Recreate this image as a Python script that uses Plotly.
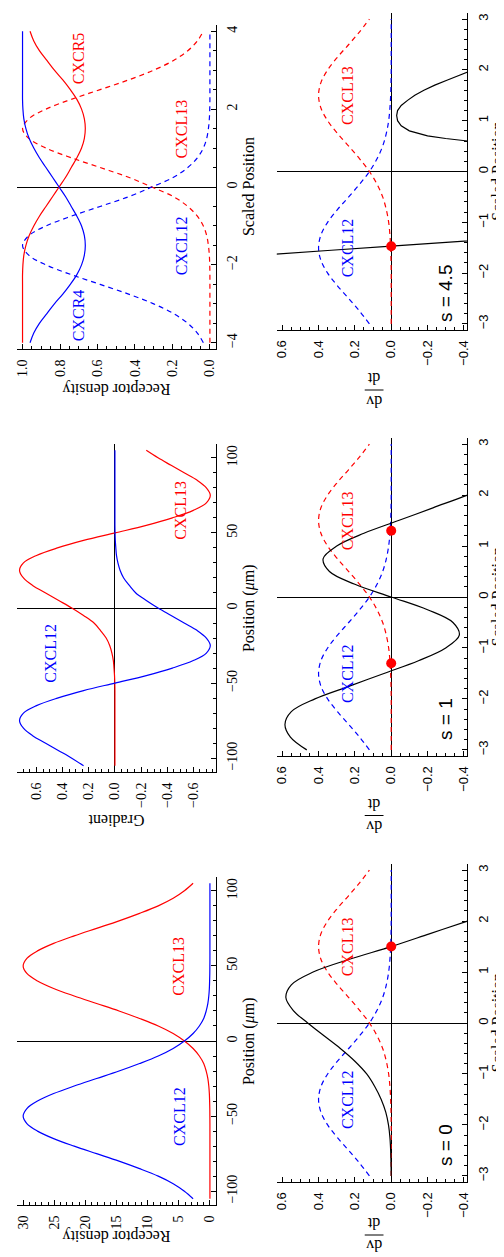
import plotly.graph_objects as go

# ---------------- data ----------------
# Panel A / B : position in micrometres
pos_um = [-105, -100, -95, -90, -85, -80, -75, -70, -65, -60, -55, -50, -45, -40, -35, -30,
          -25, -20, -15, -10, -5, 0, 5, 10, 15, 20, 25, 30, 35, 40, 45, 50,
          55, 60, 65, 70, 75, 80, 85, 90, 95, 100, 105]
dens_cxcl12 = [2.7, 4.1, 5.9, 8.3, 11.3, 14.6, 18.2, 21.8, 25.1, 27.7, 29.4, 30.0, 29.4, 27.7, 25.1, 21.8,
               18.2, 14.6, 11.3, 8.3, 5.9, 4.1, 2.7, 1.7, 1.0, 0.6, 0.33, 0.18, 0.09, 0.05, 0.02, 0.01,
               0, 0, 0, 0, 0, 0, 0, 0, 0, 0, 0]
dens_cxcl13 = [0, 0, 0, 0, 0, 0, 0, 0, 0, 0, 0, 0.01, 0.02, 0.05, 0.09, 0.18,
               0.33, 0.6, 1.0, 1.7, 2.7, 4.1, 5.9, 8.3, 11.3, 14.6, 18.2, 21.8, 25.1, 27.7, 29.4, 30.0,
               29.4, 27.7, 25.1, 21.8, 18.2, 14.6, 11.3, 8.3, 5.9, 4.1, 2.7]
grad_cxcl12 = [0.24, 0.33, 0.43, 0.53, 0.63, 0.70, 0.73, 0.70, 0.60, 0.44, 0.24, 0.0, -0.24, -0.44, -0.60, -0.70,
               -0.73, -0.70, -0.63, -0.53, -0.43, -0.33, -0.24, -0.16, -0.11, -0.067, -0.04, -0.023, -0.012, -0.007, -0.003, -0.001,
               0, 0, 0, 0, 0, 0, 0, 0, 0, 0, 0]
grad_cxcl13 = [0, 0, 0, 0, 0, 0, 0, 0, 0, 0, 0, 0.001, 0.003, 0.007, 0.012, 0.023,
               0.04, 0.067, 0.11, 0.16, 0.24, 0.33, 0.43, 0.53, 0.63, 0.70, 0.73, 0.70, 0.60, 0.44, 0.24, 0.0,
               -0.24, -0.44, -0.60, -0.70, -0.73, -0.70, -0.63, -0.53, -0.43, -0.33, -0.24]

# Panel C : scaled position
pos_scaled = [-4, -3.75, -3.5, -3.25, -3, -2.75, -2.5, -2.25, -2, -1.75, -1.5, -1.25, -1, -0.75, -0.5, -0.25,
              0, 0.25, 0.5, 0.75, 1, 1.25, 1.5, 1.75, 2, 2.25, 2.5, 2.75, 3, 3.25, 3.5, 3.75, 4]
rec_cxcr4 = [0.96, 0.94, 0.91, 0.87, 0.83, 0.785, 0.745, 0.71, 0.685, 0.67, 0.665, 0.67, 0.685, 0.71, 0.74, 0.77,
             0.805, 0.84, 0.875, 0.91, 0.94, 0.965, 0.982, 0.993, 0.998, 1, 1, 1, 1, 1, 1, 1, 1]
rec_cxcr5 = [1, 1, 1, 1, 1, 1, 1, 1, 0.998, 0.993, 0.982, 0.965, 0.94, 0.91, 0.875, 0.84,
             0.805, 0.77, 0.74, 0.71, 0.685, 0.67, 0.665, 0.67, 0.685, 0.71, 0.745, 0.785, 0.83, 0.87, 0.91, 0.94, 0.96]
lig_cxcl12 = [0.035, 0.067, 0.118, 0.194, 0.30, 0.434, 0.586, 0.74, 0.875, 0.967, 1.0, 0.967, 0.875, 0.74, 0.586, 0.434,
              0.31, 0.194, 0.118, 0.067, 0.035, 0.017, 0.008, 0.003, 0.001, 0, 0, 0, 0, 0, 0, 0, 0]
lig_cxcl13 = [0, 0, 0, 0, 0, 0, 0, 0, 0.001, 0.003, 0.008, 0.017, 0.035, 0.067, 0.118, 0.194,
              0.31, 0.434, 0.586, 0.74, 0.875, 0.967, 1.0, 0.967, 0.875, 0.74, 0.586, 0.434, 0.30, 0.194, 0.118, 0.067, 0.035]

# Panels D-F : scaled position -3..3
pos_s = [-3, -2.75, -2.5, -2.25, -2, -1.75, -1.5, -1.25, -1, -0.75, -0.5, -0.25, 0,
         0.25, 0.5, 0.75, 1, 1.25, 1.5, 1.75, 2, 2.25, 2.5, 2.75, 3]
s_cxcl12 = [0.12, 0.174, 0.234, 0.296, 0.35, 0.387, 0.40, 0.387, 0.35, 0.296, 0.234, 0.174, 0.12,
            0.078, 0.047, 0.027, 0.014, 0.007, 0.003, 0.001, 0, 0, 0, 0, 0]
s_cxcl13 = [0, 0, 0, 0, 0, 0.001, 0.003, 0.007, 0.014, 0.027, 0.047, 0.078, 0.12,
            0.174, 0.234, 0.296, 0.35, 0.387, 0.40, 0.387, 0.35, 0.296, 0.234, 0.174, 0.12]

s0_x = [-3, -2.75, -2.5, -2.25, -2, -1.75, -1.5, -1.25, -1, -0.75, -0.5, -0.25, 0,
        0.25, 0.5, 0.75, 1, 1.25, 1.5, 1.75, 2, 2.25]
s0_v = [0.0, 0.001, 0.003, 0.007, 0.015, 0.03, 0.055, 0.09, 0.135, 0.2, 0.28, 0.37, 0.46,
        0.54, 0.58, 0.55, 0.43, 0.23, 0.0, -0.21, -0.42, -0.62]
s0_fixed_x = [1.5]

s1_x = [-3, -2.75, -2.5, -2.25, -2, -1.75, -1.5, -1.25, -1, -0.75, -0.5, -0.25, 0,
        0.25, 0.5, 0.75, 1, 1.25, 1.5, 1.75, 2, 2.25]
s1_v = [0.465, 0.555, 0.585, 0.55, 0.42, 0.23, 0.04, -0.15, -0.30, -0.375, -0.34, -0.20, 0.0,
        0.20, 0.34, 0.375, 0.30, 0.15, -0.04, -0.23, -0.42, -0.60]
s1_fixed_x = [-1.3, 1.3]

s45_left_x = [-1.72, -1.62, -1.55, -1.47, -1.37, -1.3]
s45_left_v = [1.0, 0.63, 0.33, 0.0, -0.42, -0.7]
s45_right_x = [0.55, 0.6, 0.65, 0.7, 0.8, 0.9, 1.0, 1.1, 1.2, 1.3, 1.4, 1.5, 1.6, 1.7, 1.8, 1.9, 1.97, 2.05]
s45_right_v = [-0.6, -0.42, -0.3, -0.2, -0.1, -0.055, -0.035, -0.03, -0.035, -0.055, -0.09, -0.13, -0.18, -0.24, -0.31, -0.38, -0.43, -0.52]
s45_fixed_x = [-1.47]

s_labels = ["s = 0", "s = 1", "s = 4.5"]

# ---------------- layout helpers ----------------
W, H = 504, 1257
RED, BLUE, BLACK = "#ff0000", "#0000ff", "#000000"
SERIF = "Liberation Serif"
SANS = "Liberation Sans"


def px(X):
    return X / W


def py(Y):
    return 1 - Y / H


# panel boxes in pixels: (X left, X right(axis line), Y top, Y bottom(axis line))
boxes = {
    1: (7, 208, 869, 1197),    # A receptor density (um)
    2: (7, 208, 436, 764),     # B gradient
    3: (7, 208, 17, 341),      # C receptor density (scaled)
    4: (270, 463, 856, 1174),  # D s=0
    5: (270, 463, 430, 748),   # E s=1
    6: (270, 463, 5, 322),     # F s=4.5
}
val_ranges = {1: [31.0, -0.9], 2: [0.75, -0.77], 3: [1.03, -0.03],
              4: [0.63, -0.42], 5: [0.63, -0.42], 6: [0.63, -0.42]}
pos_ranges = {1: [-109.2, 109.2], 2: [-109.2, 109.2], 3: [-4.16, 4.16],
              4: [-3.12, 3.12], 5: [-3.12, 3.12], 6: [-3.12, 3.12]}
val_ticks = {1: (5, 1, None), 2: (0.2, 0.05, ".1f"), 3: (0.2, 0.05, ".1f"),
             4: (0.2, 0.05, ".1f"), 5: (0.2, 0.05, ".1f"), 6: (0.2, 0.05, ".1f")}
pos_ticks = {1: (50, 10), 2: (50, 10), 3: (2, 0.5), 4: (1, 0.2), 5: (1, 0.2), 6: (1, 0.2)}
val_zero = {1: False, 2: True, 3: False, 4: True, 5: True, 6: True}

fig = go.Figure()
layout = dict(width=W, height=H, margin=dict(l=0, r=0, t=0, b=0),
              paper_bgcolor="white", plot_bgcolor="white", showlegend=False)

for i, (x0, x1, y0, y1) in boxes.items():
    fam = SERIF if i <= 3 else SANS
    fsz = 14 if i <= 3 else 13
    dt, mdt, fmt = val_ticks[i]
    xa = dict(domain=[px(x0), px(x1)], range=val_ranges[i], anchor=f"y{i}",
              showgrid=False, showline=True, linecolor=BLACK, linewidth=1,
              ticks="inside", ticklen=5, tickwidth=1, tickcolor=BLACK,
              dtick=dt, tick0=0, tickangle=-90, ticklabelstandoff=4,
              tickfont=dict(family=fam, size=fsz, color=BLACK),
              minor=dict(ticks="inside", ticklen=3, tickwidth=1, tickcolor=BLACK, dtick=mdt, showgrid=False),
              zeroline=val_zero[i], zerolinecolor=BLACK, zerolinewidth=1, fixedrange=True)
    if fmt:
        xa["tickformat"] = fmt
    pdt, pmdt = pos_ticks[i]
    ya = dict(domain=[py(y1), py(y0)], range=pos_ranges[i], anchor=f"x{i}", side="right",
              showgrid=False, showline=True, linecolor=BLACK, linewidth=1,
              ticks="inside", ticklen=5, tickwidth=1, tickcolor=BLACK,
              dtick=pdt, tick0=0, tickangle=-90, ticklabelstandoff=4,
              tickfont=dict(family=fam, size=fsz, color=BLACK),
              minor=dict(ticks="inside", ticklen=3, tickwidth=1, tickcolor=BLACK, dtick=pmdt, showgrid=False),
              zeroline=True, zerolinecolor=BLACK, zerolinewidth=1, fixedrange=True)
    layout[f"xaxis{i}" if i > 1 else "xaxis"] = xa
    layout[f"yaxis{i}" if i > 1 else "yaxis"] = ya


def line(ax, vals, pos, color, dash="solid", shape="spline"):
    fig.add_trace(go.Scatter(x=vals, y=pos, mode="lines", xaxis=f"x{ax}", yaxis=f"y{ax}",
                             line=dict(color=color, width=1.2, dash=dash, shape=shape),
                             hoverinfo="skip"))


DASH = "5px,4px"
# Panel A
line(1, dens_cxcl13, pos_um, RED)
line(1, dens_cxcl12, pos_um, BLUE)
# Panel B
line(2, grad_cxcl13, pos_um, RED)
line(2, grad_cxcl12, pos_um, BLUE)
# Panel C
line(3, lig_cxcl13, pos_scaled, RED, DASH)
line(3, lig_cxcl12, pos_scaled, BLUE, DASH)
line(3, rec_cxcr5, pos_scaled, RED)
line(3, rec_cxcr4, pos_scaled, BLUE)

black_curves = {4: [(s0_v, s0_x)], 5: [(s1_v, s1_x)],
                6: [(s45_left_v, s45_left_x), (s45_right_v, s45_right_x)]}
fixed = {4: s0_fixed_x, 5: s1_fixed_x, 6: s45_fixed_x}
for ax in (4, 5, 6):
    line(ax, s_cxcl13, pos_s, RED, DASH)
    line(ax, s_cxcl12, pos_s, BLUE, DASH)
    for v, p in black_curves[ax]:
        line(ax, v, p, BLACK, shape="spline" if ax != 6 else "linear")
    fig.add_trace(go.Scatter(x=[0] * len(fixed[ax]), y=fixed[ax], mode="markers",
                             xaxis=f"x{ax}", yaxis=f"y{ax}",
                             marker=dict(color=RED, size=10, line=dict(width=0)), hoverinfo="skip"))

ann = []


def label(ax, xv, yv, text, color, size=16, fam=SERIF):
    ann.append(dict(x=xv, y=yv, xref=f"x{ax}", yref=f"y{ax}", text=text, showarrow=False,
                    textangle=-90, xanchor="center", yanchor="middle",
                    font=dict(family=fam, size=size, color=color)))


label(1, 5.0, -50, "CXCL12", BLUE)
label(1, 5.0, 50, "CXCL13", RED)
label(2, 0.5, -30, "CXCL12", BLUE)
label(2, -0.5, 65, "CXCL13", RED)
label(3, 0.70, 3.3, "CXCR5", RED)
label(3, 0.70, -3.3, "CXCR4", BLUE)
label(3, 0.15, 1.5, "CXCL13", RED)
label(3, 0.15, -1.5, "CXCL12", BLUE)
for ax, s in zip((4, 5, 6), s_labels):
    label(ax, 0.24, -1.5, "CXCL12", BLUE)
    label(ax, 0.24, 1.5, "CXCL13", RED)
    label(ax, -0.30, -2.4, s, BLACK, size=19, fam=SANS)


def ptext(X, Y, text, angle, size=16, fam=SERIF):
    ann.append(dict(x=px(X), y=py(Y), xref="paper", yref="paper", text=text, showarrow=False,
                    textangle=angle, xanchor="center", yanchor="middle",
                    font=dict(family=fam, size=size, color=BLACK)))


# position-axis titles (right side, reading upward)
ptext(242, 179, "Scaled Position", -90)
ptext(242, 600, "Position (<i>μ</i>m)", -90)
ptext(242, 1033, "Position (<i>μ</i>m)", -90)
for yc in (163.5, 589, 1015):
    ptext(493, yc, "Scaled Position", -90)
# value-axis titles (below, upside down)
ptext(107.5, 381, "Receptor density", 180)
ptext(107.5, 813, "Gradient", 180)
ptext(107.5, 1228, "Receptor density", 180)
shapes = []
for off in (0, 425.5, 845.0):
    ptext(368.5, 371 + off, "dt", 180, size=16)
    ptext(368.5, 393 + off, "dv", 180, size=16)
    shapes.append(dict(type="line", xref="paper", yref="paper", x0=px(359), x1=px(378),
                       y0=py(382 + off), y1=py(382 + off), line=dict(color=BLACK, width=1)))

layout["annotations"] = ann
layout["shapes"] = shapes
fig.update_layout(**layout)
fig.write_html("out.html", config={"displayModeBar": False})
